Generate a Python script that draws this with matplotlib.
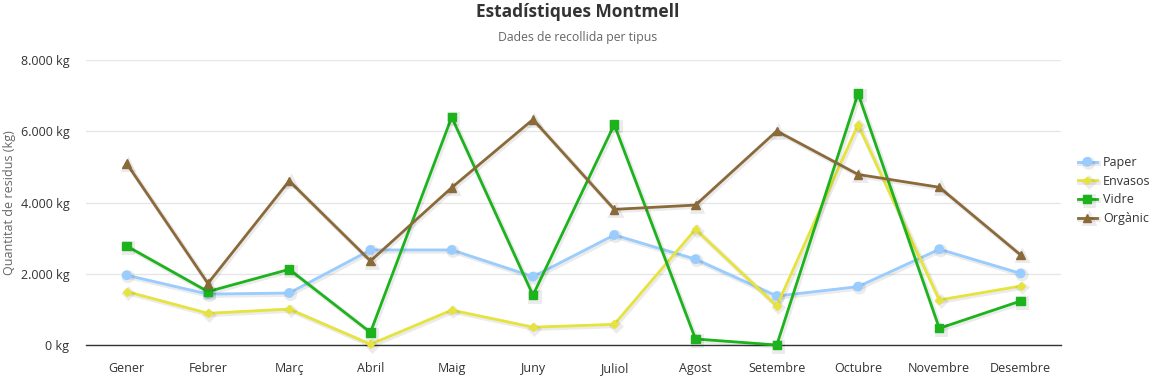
import numpy as np
import matplotlib
matplotlib.use("Agg")
from matplotlib import pyplot as plt
from matplotlib import patheffects as pe
from matplotlib.ticker import FuncFormatter

# Data (kg per month)
months = ["Gener", "Febrer", "Març", "Abril", "Maig", "Juny",
          "Juliol", "Agost", "Setembre", "Octubre", "Novembre", "Desembre"]
paper = [1960, 1430, 1460, 2670, 2670, 1920, 3090, 2410, 1375, 1640, 2690, 2010]
envasos = [1500, 890, 1010, 20, 980, 500, 580, 3250, 1095, 6190, 1265, 1655]
vidre = [2780, 1500, 2125, 355, 6400, 1400, 6190, 170, 0, 7065, 470, 1235]
organic = [5100, 1730, 4610, 2360, 4420, 6335, 3810, 3930, 6010, 4790, 4430, 2530]

series = [
    ("Paper", paper, "#99ccff", "o", 6),
    ("Envasos", envasos, "#e6e43c", "D", 4),
    ("Vidre", vidre, "#1db31d", "s", 6),
    ("Orgànic", organic, "#8b6a3a", "^", 6),
]

plt.rcParams["font.family"] = ["Open Sans", "DejaVu Sans"]

fig = plt.figure(figsize=(11.56, 3.76), dpi=100)
ax = fig.add_axes([0.0744, 0.0824, 0.8436, 0.7576])

x = np.arange(len(months))
shadow = [pe.SimpleLineShadow(offset=(1, -1), shadow_color="black", alpha=0.08, linewidth=3.5),
          pe.Normal()]
for name, vals, color, marker, ms in series:
    ax.plot(x, vals, color=color, linewidth=2, marker=marker, markersize=ms,
            label=name, path_effects=shadow, clip_on=False, zorder=3)

ax.set_xlim(-0.5, len(months) - 0.5)
ax.set_ylim(0, 8000)
ax.set_yticks([0, 2000, 4000, 6000, 8000])
ax.yaxis.set_major_formatter(FuncFormatter(lambda v, p: f"{int(v):,}".replace(",", ".") + " kg"))
ax.set_xticks(x)
ax.set_xticklabels(months)
ax.tick_params(axis="both", length=0, labelsize=9, colors="#333333")
ax.tick_params(axis="x", pad=12)
ax.tick_params(axis="y", pad=12)
ax.grid(axis="y", color="#e6e6e6", linewidth=1)
ax.set_axisbelow(True)
for s in ["top", "right", "left"]:
    ax.spines[s].set_visible(False)
ax.spines["bottom"].set_color("#333333")
ax.spines["bottom"].set_linewidth(1)

ax.set_ylabel("Quantitat de residus (kg)", fontsize=9, color="#666666")
ax.yaxis.set_label_coords(-0.072, 0.5)

fig.text(0.5, 0.968, "Estadístiques Montmell", ha="center", va="center",
         fontsize=12.5, fontweight="bold", color="#333333")
fig.text(0.5, 0.9, "Dades de recollida per tipus", ha="center", va="center",
         fontsize=8.8, color="#666666")

leg = ax.legend(loc="center left", bbox_to_anchor=(1.012, 0.542), frameon=False,
                fontsize=9, handlelength=1.5, labelspacing=0.45, handletextpad=0.5,
                borderaxespad=0)
for t in leg.get_texts():
    t.set_color("#333333")

fig.savefig("out.png", dpi=100)
